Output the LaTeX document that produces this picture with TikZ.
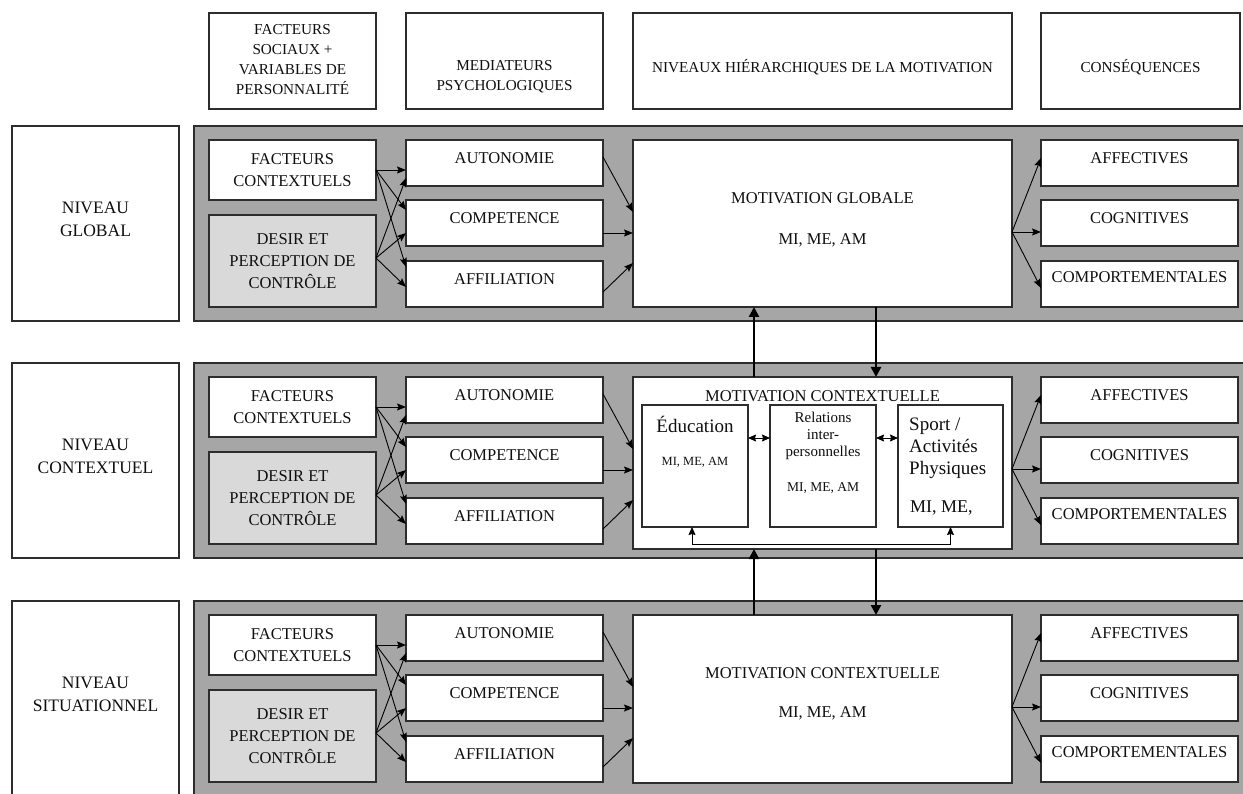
\documentclass[tikz,border=0pt]{standalone}
\usepackage{fontspec}
\setmainfont{Liberation Serif}
\usetikzlibrary{arrows.meta}
\definecolor{panel}{RGB}{166,166,166}
\definecolor{pale}{RGB}{217,217,217}
\definecolor{edge}{RGB}{45,45,45}
\definecolor{ink}{RGB}{15,15,15}
\newcommand\tsz[2]{\fontsize{#1}{#2}\selectfont}
% rectangle node from its corners: name, x1, y1, x2, y2, extra style
\newcommand\mkbox[6]{%
  \node[bx,#6,minimum width={((#4)-(#2))*1pt},minimum height={((#5)-(#3))*1pt}]
    (#1) at ({((#2)+(#4))/2},{((#3)+(#5))/2}) {};}
\begin{document}
\begin{tikzpicture}[x=1pt,y=-1pt,
  bx/.style={draw=edge,line width=1.2pt,fill=white,inner sep=0pt,outer sep=0pt},
  txt/.style={inner sep=0pt,align=center,text=ink,font=\tsz{16.5}{22}},
  head/.style={txt,font=\tsz{15.2}{20}},
  arr/.style={line width=0.9pt,-{Stealth[length=9pt,width=7pt,inset=1.5pt]}},
  twoway/.style={line width=0.9pt,{Stealth[length=8pt,width=7pt,inset=1pt]}-{Stealth[length=8pt,width=7pt,inset=1pt]}},
  bigarr/.style={line width=2.6pt,-{Stealth[length=10pt,width=10pt,inset=0pt]}}]
\useasboundingbox (0,0) rectangle (1243,794);

% column headings
\mkbox{h1}{209}{13}{376}{109}{}
\mkbox{h2}{406}{13}{603}{109}{}
\mkbox{h3}{633}{13}{1012}{109}{}
\mkbox{h4}{1041}{13}{1240}{109}{}
\node[head] (h1t) at (292.5,60) {FACTEURS\\SOCIAUX +\\VARIABLES DE\\PERSONNALITÉ};
\node[head] (h2t) at (504.5,76.5) {MEDIATEURS\\PSYCHOLOGIQUES};
\node[head] (h3t) at (822.5,67) {NIVEAUX HIÉRARCHIQUES DE LA MOTIVATION};
\node[head] (h4t) at (1140.5,67) {CONSÉQUENCES};

% the three levels
\foreach \r/\o/\mb/\lab in {1/0/307/GLOBAL,2/237/312/CONTEXTUEL,3/475/308/SITUATIONNEL}{
  \mkbox{pn\r}{194}{126+\o}{1245}{321+\o}{fill=panel}
  \mkbox{lb\r}{12}{126+\o}{179}{321+\o}{}
  \node[txt,font=\tsz{17.5}{23.5}] (lbt\r) at (95.5,219.5+\o) {NIVEAU\\\lab};
  \mkbox{fc\r}{209}{140+\o}{376}{200+\o}{}
  \mkbox{de\r}{209}{215+\o}{376}{307+\o}{fill=pale}
  \mkbox{au\r}{406}{140+\o}{603}{186+\o}{}
  \mkbox{co\r}{406}{200+\o}{603}{246+\o}{}
  \mkbox{af\r}{406}{261+\o}{603}{307+\o}{}
  \mkbox{mo\r}{633}{140+\o}{1012}{\mb+\o}{}
  \mkbox{ca\r}{1041}{140+\o}{1238}{186+\o}{}
  \mkbox{cc\r}{1041}{200+\o}{1238}{246+\o}{}
  \mkbox{cp\r}{1041}{261+\o}{1238}{307+\o}{}
  \node[txt] (fct\r) at (292.5,170+\o) {FACTEURS\\CONTEXTUELS};
  \node[txt] (det\r) at (292.5,261+\o) {DESIR ET\\PERCEPTION DE\\CONTRÔLE};
  \node[txt] (aut\r) at (504.5,158+\o) {AUTONOMIE};
  \node[txt] (cot\r) at (504.5,218+\o) {COMPETENCE};
  \node[txt] (aft\r) at (504.5,279+\o) {AFFILIATION};
  \node[txt] (cat\r) at (1139.5,158+\o) {AFFECTIVES};
  \node[txt] (cct\r) at (1139.5,218+\o) {COGNITIVES};
  \node[txt] (cpt\r) at (1139.5,277+\o) {COMPORTEMENTALES};
  % social factors -> psychological mediators
  \draw[arr] (fc\r.east) -- ([yshift=-7pt]au\r.west);
  \draw[arr] (fc\r.east) -- ([yshift=13pt]co\r.west);
  \draw[arr] (fc\r.east) -- ([yshift=17pt]af\r.west);
  \draw[arr] ([yshift=3pt]de\r.east) -- ([yshift=-15pt]au\r.west);
  \draw[arr] ([yshift=3pt]de\r.east) -- ([yshift=-10pt]co\r.west);
  \draw[arr] ([yshift=3pt]de\r.east) -- ([yshift=-3pt]af\r.west);
  % mediators -> motivation
  \draw[arr] ([yshift=6pt]au\r.east) -- ([yshift=-72pt]mo\r.north west);
  \draw[arr] ([yshift=-10pt]co\r.east) -- ([yshift=-93pt]mo\r.north west);
  \draw[arr] ([yshift=-8pt]af\r.east) -- ([yshift=-123pt]mo\r.north west);
  % motivation -> consequences
  \draw[arr] ([yshift=-92pt]mo\r.north east) -- ([yshift=5pt]ca\r.west);
  \draw[arr] ([yshift=-92pt]mo\r.north east) -- ([yshift=-9pt]cc\r.west);
  \draw[arr] ([yshift=-92pt]mo\r.north east) -- ([yshift=-4pt]cp\r.west);
}

% motivation texts
\node[txt] (mot1) at (822.5,198) {MOTIVATION GLOBALE};
\node[txt] (mim1) at (822.5,240) {MI, ME, AM};
\node[txt] (mot2) at (822.5,396) {MOTIVATION CONTEXTUELLE};
\node[txt] (mot3) at (822.5,673) {MOTIVATION CONTEXTUELLE};
\node[txt] (mim3) at (822.5,713) {MI, ME, AM};

% contextual motivation: three contexts
\mkbox{ed}{642}{405}{748}{527}{}
\mkbox{re}{770}{405}{876}{527}{}
\mkbox{sp}{898}{405}{1003}{527}{}
\node[txt,font=\tsz{19}{22}] (edt) at (695,424) {Éducation};
\node[txt,font=\tsz{12.5}{15}] (edm) at (695,462) {MI, ME, AM};
\node[txt,font=\tsz{15}{17}] (ret) at (823,436) {Relations\\inter-\\personnelles};
\node[txt,font=\tsz{13.5}{16}] (rem) at (823,488) {MI, ME, AM};
\node[txt,align=left,anchor=west,font=\tsz{19}{22}] (spt) at (909,448) {Sport /\\Activités\\Physiques};
\node[txt,anchor=west,font=\tsz{18}{22}] (spm) at (910,508) {MI, ME,};
\draw[twoway] ([yshift=28pt]ed.east) -- ([yshift=28pt]re.west);
\draw[twoway] ([yshift=28pt]re.east) -- ([yshift=28pt]sp.west);
\draw[twoway] ([xshift=-3pt]ed.south) -- ++(0,17) -| (sp.south);

% links between the levels
\draw[bigarr] ([xshift=-68.5pt]mo2.north) -- ([xshift=-68.5pt]mo1.south);
\draw[bigarr] ([xshift=53.5pt]mo1.south) -- ([xshift=53.5pt]mo2.north);
\draw[bigarr] ([xshift=-68.5pt]mo3.north) -- ([xshift=-68.5pt]mo2.south);
\draw[bigarr] ([xshift=53.5pt]mo2.south) -- ([xshift=53.5pt]mo3.north);
\end{tikzpicture}
\end{document}
